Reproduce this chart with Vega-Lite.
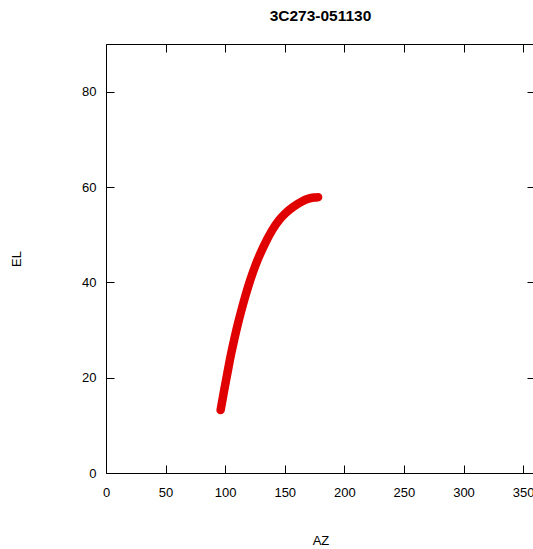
{
  "$schema": "https://vega.github.io/schema/vega-lite/v6.json",
  "autosize": "none",
  "padding": {"left": 106, "top": 44, "right": 10, "bottom": 76},
  "width": 429,
  "height": 429,
  "background": "white",
  "title": {
    "text": "3C273-051130",
    "font": "Liberation Sans",
    "fontSize": 15.5,
    "fontWeight": "bold",
    "color": "#000000",
    "anchor": "middle",
    "offset": 19
  },
  "config": {
    "view": {"stroke": "#000000", "strokeWidth": 1},
    "axis": {
      "domain": false,
      "grid": false,
      "labelFlush": false,
      "tickColor": "#000000",
      "tickSize": -8,
      "labelFont": "Liberation Sans",
      "labelFontSize": 13,
      "labelColor": "#000000",
      "titleFont": "Liberation Sans",
      "titleFontSize": 13,
      "titleFontWeight": "normal",
      "titleColor": "#000000"
    }
  },
  "data": {
    "values": [
      {"AZ": 96.2, "EL": 13.2},
      {"AZ": 99.2, "EL": 17.4},
      {"AZ": 101.9, "EL": 21.0},
      {"AZ": 104.5, "EL": 24.4},
      {"AZ": 107.6, "EL": 28.0},
      {"AZ": 110.8, "EL": 31.4},
      {"AZ": 113.8, "EL": 34.3},
      {"AZ": 116.8, "EL": 37.0},
      {"AZ": 121.1, "EL": 40.5},
      {"AZ": 126.1, "EL": 44.0},
      {"AZ": 132.2, "EL": 47.5},
      {"AZ": 139.6, "EL": 51.0},
      {"AZ": 145.4, "EL": 53.1},
      {"AZ": 150.6, "EL": 54.5},
      {"AZ": 157.6, "EL": 55.9},
      {"AZ": 164.0, "EL": 56.9},
      {"AZ": 170.0, "EL": 57.55},
      {"AZ": 174.5, "EL": 57.78},
      {"AZ": 178.0, "EL": 57.85}
    ]
  },
  "layer": [
    {
      "mark": {"type": "line", "color": "#e00000", "strokeWidth": 8.5, "strokeCap": "round", "strokeJoin": "round", "interpolate": "monotone"},
      "encoding": {
        "x": {
          "field": "AZ", "type": "quantitative",
          "scale": {"domain": [0, 360], "nice": false, "zero": false},
          "axis": {"orient": "bottom", "title": "AZ", "values": [0, 50, 100, 150, 200, 250, 300, 350], "labelPadding": 21, "titleX": 214.5, "titleY": 71, "titleBaseline": "alphabetic", "titleAlign": "center"}
        },
        "y": {
          "field": "EL", "type": "quantitative",
          "scale": {"domain": [0, 90], "nice": false},
          "axis": {"orient": "left", "title": "EL", "values": [0, 20, 40, 60, 80], "labelPadding": 18, "titleX": -86, "titleY": 214.5, "titleBaseline": "alphabetic", "titleAlign": "center", "titleAngle": -90}
        }
      }
    },
    {
      "mark": {"type": "line", "opacity": 0},
      "encoding": {
        "x": {
          "field": "AZ", "type": "quantitative",
          "axis": {"orient": "top", "title": null, "labels": false, "values": [0, 50, 100, 150, 200, 250, 300, 350]}
        },
        "y": {
          "field": "EL", "type": "quantitative",
          "axis": {"orient": "right", "title": null, "labels": false, "values": [0, 20, 40, 60, 80]}
        }
      }
    }
  ],
  "resolve": {"axis": {"x": "independent", "y": "independent"}}
}
